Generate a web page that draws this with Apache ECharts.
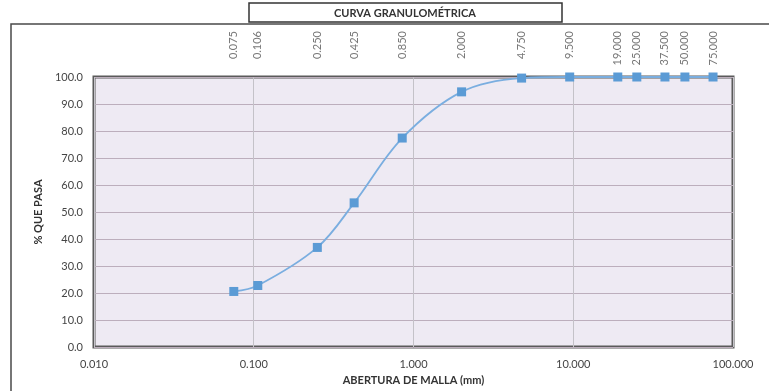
<!DOCTYPE html>
<html>
<head>
<meta charset="utf-8">
<script src="https://cdn.jsdelivr.net/npm/echarts@6/dist/echarts.min.js"></script>
<style>html,body{margin:0;padding:0;background:#fff;}#c{width:769px;height:391px;}</style>
</head>
<body>
<div id="c"></div>
<script>
// Data
var sieveSizes = [0.075, 0.106, 0.250, 0.425, 0.850, 2.000, 4.750, 9.500, 19.000, 25.000, 37.500, 50.000, 75.000];
var percentPassing = [20.6, 22.8, 36.9, 53.4, 77.4, 94.5, 99.6, 100, 100, 100, 100, 100, 100];
var sieveLabels = ['0.075', '0.106', '0.250', '0.425', '0.850', '2.000', '4.750', '9.500', '19.000', '25.000', '37.500', '50.000', '75.000'];
var yTicks = [0, 10, 20, 30, 40, 50, 60, 70, 80, 90, 100];
var xRange = [0.01, 100];

var FONT = 'Lato, "Open Sans", sans-serif';
var chart = echarts.init(document.getElementById('c'), null, {renderer: 'canvas'});
var curve = sieveSizes.map(function (s, i) { return [s, percentPassing[i]]; });
var topRow = sieveSizes.map(function (s) { return [s, 100]; });

chart.setOption({
  animation: false,
  backgroundColor: '#ffffff',
  graphic: [
    {type: 'rect', shape: {x: 11, y: 24, width: 770, height: 380}, style: {fill: 'none', stroke: '#4a4a4a', lineWidth: 1.5}, z: -1},
    {type: 'rect', shape: {x: 249, y: 3, width: 313, height: 19}, style: {fill: '#fff', stroke: '#333', lineWidth: 1.5}},
    {type: 'text', x: 405, y: 13, style: {text: 'CURVA GRANULOMÉTRICA', fill: '#333', font: 'bold 11px ' + FONT, textAlign: 'center', textVerticalAlign: 'middle'}}
  ],
  grid: {
    left: 94, right: 36, top: 77, bottom: 40,
    show: true, backgroundColor: '#eeeaf3', borderColor: '#5a5a5a', borderWidth: 3
  },
  xAxis: {
    type: 'log', logBase: 10, min: xRange[0], max: xRange[1],
    name: 'ABERTURA DE MALLA (mm)', nameLocation: 'middle', nameGap: 26,
    nameTextStyle: {fontFamily: FONT, fontWeight: 'bold', fontSize: 11, color: '#333'},
    axisLine: {show: false}, axisTick: {show: false},
    axisLabel: {fontFamily: FONT, fontSize: 11, color: '#444', margin: 12,
      formatter: function (v) { return Number(v).toFixed(3); }},
    splitLine: {show: true, lineStyle: {color: '#c4c2c8', width: 1}}
  },
  yAxis: {
    type: 'value', min: yTicks[0], max: yTicks[yTicks.length - 1], interval: 10,
    name: '% QUE PASA', nameLocation: 'middle', nameGap: 46, nameRotate: 90,
    nameTextStyle: {fontFamily: FONT, fontWeight: 'bold', fontSize: 11, color: '#333'},
    axisLine: {show: false}, axisTick: {show: false},
    axisLabel: {fontFamily: FONT, fontSize: 11, color: '#444', margin: 11,
      formatter: function (v) { return Number(v).toFixed(1); }},
    splitLine: {show: true, lineStyle: {color: '#bcaebc', width: 1}}
  },
  series: [
    {
      type: 'line', data: curve, smooth: 0.35,
      symbol: 'rect', symbolSize: 9,
      lineStyle: {color: '#7aaee0', width: 1.8},
      itemStyle: {color: '#5b9bd5'},
      clip: false, z: 3
    },
    {
      type: 'scatter', data: topRow, symbolSize: 1,
      itemStyle: {color: 'rgba(0,0,0,0)'}, clip: false, silent: true,
      label: {
        show: true, position: 'inside', offset: [46, 0], rotate: 90,
        align: 'right', verticalAlign: 'middle',
        fontFamily: FONT, fontSize: 11, color: '#555',
        formatter: function (p) { return sieveLabels[p.dataIndex]; }
      }
    }
  ]
});
</script>
</body>
</html>
